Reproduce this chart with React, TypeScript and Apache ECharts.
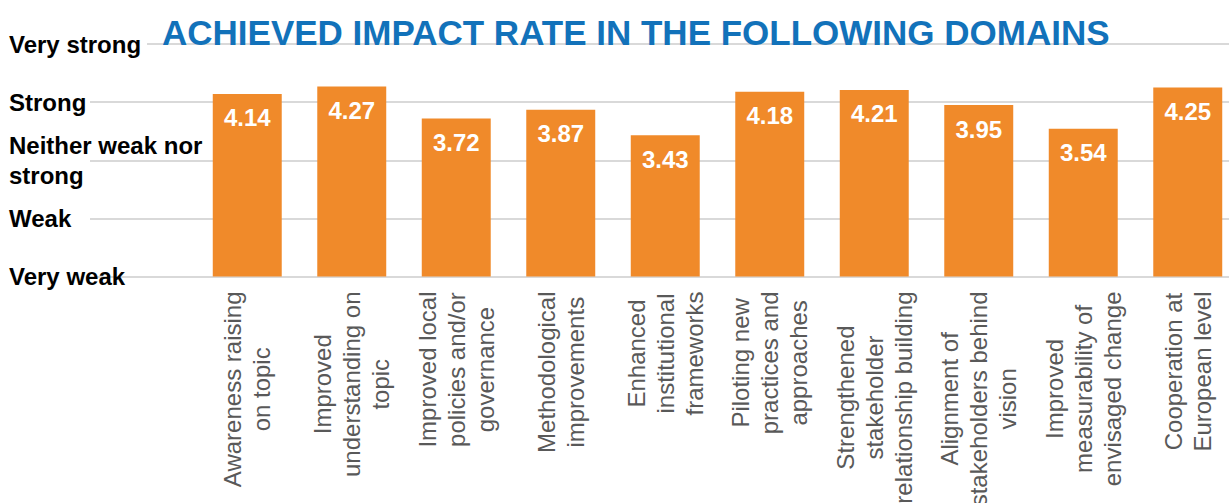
import React, { useEffect, useRef } from "react";
import * as echarts from "echarts";

const categories: string[] = [
  "Awareness raising\non topic",
  "Improved\nunderstanding on\ntopic",
  "Improved local\npolicies and/or\ngovernance",
  "Methodological\nimprovements",
  "Enhanced\ninstitutional\nframeworks",
  "Piloting new\npractices and\napproaches",
  "Strengthened\nstakeholder\nrelationship building",
  "Alignment of\nstakeholders behind\nvision",
  "Improved\nmeasurability of\nenvisaged change",
  "Cooperation at\nEuropean level",
];

const values: number[] = [4.14, 4.27, 3.72, 3.87, 3.43, 4.18, 4.21, 3.95, 3.54, 4.25];

const scaleLabels: Record<number, string> = {
  1: "Very weak",
  2: "Weak",
  3: "Neither weak nor\nstrong",
  4: "Strong",
  5: "Very strong",
};

const titleText = "ACHIEVED IMPACT RATE IN THE FOLLOWING DOMAINS";

const FONT = "Liberation Sans, Arial, sans-serif";

export default function App() {
  const ref = useRef<HTMLDivElement>(null);

  useEffect(() => {
    if (!ref.current) return;
    const chart = echarts.init(ref.current, null, { renderer: "svg" });
    const option: any = {
      animation: false,
      backgroundColor: "#ffffff",
      title: {
        text: titleText,
        left: 157,
        top: 10,
        textStyle: {
          color: "#1272BA",
          fontSize: 35,
          fontWeight: "bold",
          fontFamily: FONT,
        },
      },
      grid: [
        { left: 90, right: 0, top: 44, bottom: 226.5, containLabel: false, outerBoundsMode: "none" },
        { left: 195, right: 0, top: 44, bottom: 226.5, containLabel: false, outerBoundsMode: "none" },
      ],
      xAxis: [
        {
          gridIndex: 0,
          type: "value",
          show: false,
        },
        {
          gridIndex: 1,
          type: "category",
          data: categories,
          axisLine: { show: false },
          axisTick: { show: false },
          axisLabel: {
            interval: 0,
            rotate: 90,
            margin: 15,
            color: "#595959",
            fontSize: 24,
            fontFamily: FONT,
            lineHeight: 29,
            formatter: (v: string) =>
              v
                .split("\n")
                .map((l) => `{c|${l}}`)
                .join("\n"),
            rich: {
              c: {
                align: "center",
                color: "#595959",
                fontSize: 24,
                fontFamily: FONT,
                lineHeight: 29,
              },
            },
          },
        },
      ],
      yAxis: [
        {
          gridIndex: 0,
          type: "value",
          min: 1,
          max: 5,
          interval: 1,
          axisLine: { show: false },
          axisTick: { show: false },
          splitLine: { show: true, lineStyle: { color: "#D9D9D9", width: 2 } },
          axisLabel: {
            align: "left",
            margin: 81,
            color: "#000000",
            fontSize: 24,
            fontWeight: "bold",
            fontFamily: FONT,
            lineHeight: 30,
            formatter: (v: number) =>
              v === 5 ? `{vs|${scaleLabels[v]}}` : scaleLabels[v] || "",
            rich: {
              vs: {
                backgroundColor: "#ffffff",
                color: "#000000",
                fontSize: 24,
                fontWeight: "bold",
                fontFamily: FONT,
                padding: [0, 6, 0, 0],
              },
            },
          },
        },
        {
          gridIndex: 1,
          type: "value",
          min: 1,
          max: 5,
          interval: 1,
          show: false,
          splitLine: { show: false },
        },
      ],
      series: [
        {
          type: "bar",
          xAxisIndex: 1,
          yAxisIndex: 1,
          data: values,
          barCategoryGap: "34%",
          itemStyle: { color: "#F08A2A" },
          label: {
            show: true,
            position: "insideTop",
            distance: 12,
            color: "#ffffff",
            fontSize: 24,
            fontWeight: "bold",
            fontFamily: FONT,
            formatter: (p: any) => p.value.toFixed(2),
          },
        },
      ],
    };
    chart.setOption(option);
    return () => chart.dispose();
  }, []);

  return (
    <div
      style={{
        position: "fixed",
        left: 0,
        top: 0,
        width: 1229,
        height: 503,
        overflow: "hidden",
        background: "#fff",
      }}
    >
      <div ref={ref} style={{ width: 1240, height: 503 }} />
    </div>
  );
}
